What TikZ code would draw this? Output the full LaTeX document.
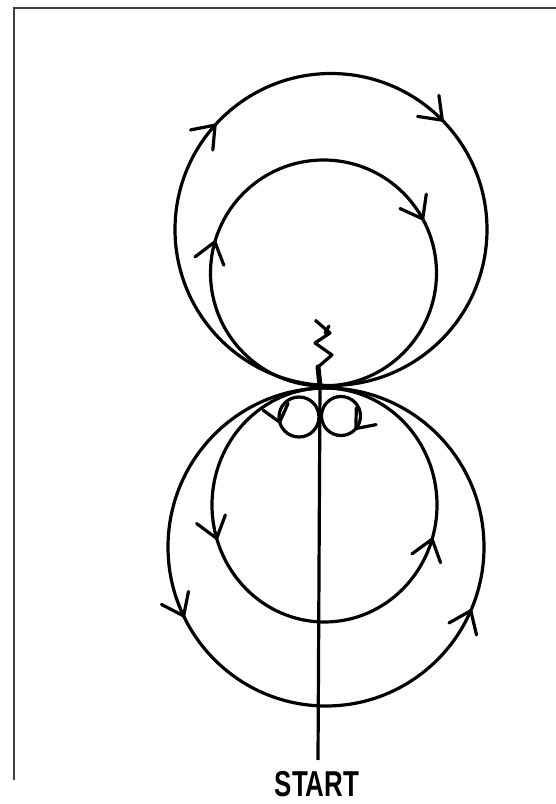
\documentclass[tikz,border=0pt]{standalone}
\usepackage{fontspec}
\setmainfont{Liberation Sans}
\usetikzlibrary{calc}
\begin{document}
\begin{tikzpicture}[x=1pt,y=1pt,
  curve/.style={line width=3.2pt, black},
  frameline/.style={line width=1.5pt, black!75},
  barbtip/.pic={\draw[curve, line cap=round, line join=miter] (-20,15) -- (0,0) -- (-20,-15);},
  smallbarb/.pic={\draw[curve, line cap=round, line join=miter] (-16,13) -- (0,0) -- (-16,-13);},
]
\useasboundingbox (0,0) rectangle (556,804);
% frame
\draw[frameline] (556,796) -- (14,796) -- (14,24);
% centres
\coordinate (uo) at (331,574.5);
\coordinate (ui) at (323.5,531);
\coordinate (lo) at (326,257);
\coordinate (li) at (324.5,299);
\coordinate (sl) at (299,387);
\coordinate (sr) at (341,388);
% upper circles (clockwise)
\draw[curve] (uo) circle[radius=156];
\draw[curve] (ui) circle[radius=113];
\pic[rotate=48] at ($(uo)+(138:156)$) {barbtip};
\pic[rotate=-45.5] at ($(uo)+(44.5:156)$) {barbtip};
\pic[rotate=74] at ($(ui)+(164:113)$) {barbtip};
\pic[rotate=-61.4] at ($(ui)+(28.6:113)$) {barbtip};
% lower circles (counter-clockwise)
\draw[curve] (lo) ellipse[x radius=158, y radius=159];
\draw[curve] (li) ellipse[x radius=112.5, y radius=117];
\pic[rotate=295.7] at ($(lo)+(205.7:158 and 159)$) {barbtip};
\pic[rotate=66.4] at ($(lo)+(-23.6:158 and 159)$) {barbtip};
\pic[rotate=286.6] at ($(li)+(196.6:112.5 and 117)$) {barbtip};
\pic[rotate=73] at ($(li)+(-17:112.5 and 117)$) {barbtip};
% small loops
\draw[curve] (sl) circle[radius=20];
\draw[curve] (sr) circle[radius=19.5];
\pic[rotate=285] at ($(sl)+(195:20)$) {smallbarb};
\pic[rotate=-130] at ($(sr)+(-40:19.5)$) {smallbarb};
% zigzag
\coordinate (tp) at (320,418);
\draw[curve, line join=round] (tp) -- (318,437) -- (332,449) -- (315,461) -- (330,471) -- (315,484);
\draw[line width=5pt, line cap=round] (tp) -- (318,437);
\draw[curve, line cap=round] (329,478) -- (325,471);
% vertical line
\coordinate (vb) at (318,44);
\draw[curve] (tp) -- (vb);
% label
\node[anchor=base, inner sep=0pt, font=\fontsize{36}{36}\selectfont\bfseries] (start) at (317,8) {\scalebox{0.72}[1]{START}};
\end{tikzpicture}
\end{document}
